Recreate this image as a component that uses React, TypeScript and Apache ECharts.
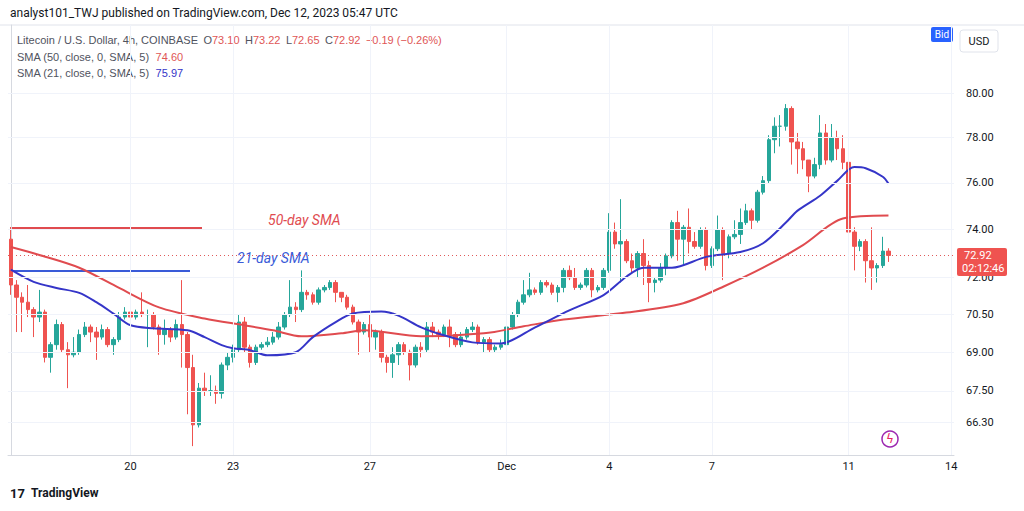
import { useRef, useEffect } from 'react'
import * as echarts from 'echarts';

// 4h candles, Nov 16 12:00 -> Dec 12 04:00  [open, close, low, high]
const candles: number[][] = [
  [73.6, 71.7, 71.3, 74.1], [71.7, 71.2, 69.8, 71.9], [71.2, 71.0, 69.8, 71.4], [71.0, 70.7, 70.4, 71.7],
  [70.7, 70.4, 69.6, 70.8], [70.4, 70.6, 70.2, 71.5], [70.6, 68.8, 68.6, 70.7], [68.8, 69.3, 68.2, 69.4],
  [69.3, 70.1, 69.1, 70.3], [70.1, 69.1, 69.0, 70.2], [69.1, 68.9, 67.6, 69.4], [68.9, 69.0, 68.8, 69.6],
  [69.0, 69.7, 68.9, 69.9], [69.7, 70.0, 69.6, 70.2], [70.0, 69.8, 69.4, 70.1], [69.8, 69.6, 68.7, 70.0],
  [69.6, 69.9, 69.5, 70.1], [69.9, 69.3, 69.2, 70.0], [69.3, 69.5, 68.9, 69.6], [69.5, 70.4, 69.4, 70.6],
  [70.4, 70.6, 70.3, 70.8], [70.6, 70.4, 70.0, 70.7], [70.4, 70.6, 70.3, 70.7], [70.6, 70.5, 70.4, 71.4],
  [70.5, 70.5, 69.2, 70.7], [70.5, 70.0, 69.9, 70.6], [70.0, 69.7, 68.9, 70.1], [69.7, 69.9, 69.3, 70.3],
  [69.9, 69.6, 69.4, 70.0], [69.6, 70.1, 69.5, 70.3], [70.1, 69.7, 68.4, 71.9], [69.7, 68.4, 66.6, 69.8],
  [68.4, 66.2, 65.4, 68.9], [66.2, 67.6, 66.1, 67.8], [67.6, 67.5, 67.3, 68.2], [67.5, 67.5, 67.3, 68.1],
  [67.5, 67.4, 67.0, 67.7], [67.4, 68.5, 67.2, 68.6], [68.5, 68.8, 68.3, 69.0], [68.8, 69.1, 68.6, 69.3],
  [69.1, 70.2, 69.0, 70.5], [70.2, 69.2, 69.0, 70.4], [69.2, 68.6, 68.4, 69.3], [68.6, 69.2, 68.5, 69.3],
  [69.2, 69.3, 69.1, 69.4], [69.3, 69.4, 69.2, 69.6], [69.4, 69.6, 69.3, 69.8], [69.6, 70.0, 69.5, 70.2],
  [70.0, 70.5, 69.9, 70.6], [70.5, 70.8, 70.4, 71.9], [70.8, 70.7, 70.2, 71.0], [70.7, 71.4, 70.6, 72.3],
  [71.4, 71.3, 71.1, 71.5], [71.3, 71.0, 70.9, 71.4], [71.0, 71.5, 70.9, 71.6], [71.5, 71.6, 71.4, 71.7],
  [71.6, 71.8, 71.5, 71.9], [71.8, 71.4, 71.0, 71.9], [71.4, 71.2, 71.0, 71.4], [71.2, 70.8, 70.7, 71.3],
  [70.8, 70.2, 70.1, 70.9], [70.2, 69.8, 68.9, 70.3], [69.8, 70.1, 69.7, 70.2], [70.1, 69.6, 69.0, 70.5],
  [69.6, 69.8, 69.1, 69.9], [69.8, 68.8, 68.6, 69.9], [68.8, 68.6, 68.2, 68.9], [68.6, 68.9, 68.0, 69.2],
  [68.9, 69.3, 68.5, 69.4], [69.3, 69.0, 68.9, 69.4], [69.0, 68.5, 67.9, 69.1], [68.5, 69.2, 68.4, 69.3],
  [69.2, 69.1, 68.8, 69.4], [69.1, 70.0, 69.0, 70.2], [70.0, 69.8, 69.6, 70.2], [69.8, 69.7, 69.5, 69.9],
  [69.7, 70.0, 69.6, 70.1], [70.0, 69.7, 69.2, 70.3], [69.7, 69.3, 69.2, 69.8], [69.3, 69.6, 69.2, 69.8],
  [69.6, 69.9, 69.5, 70.0], [69.9, 70.0, 69.8, 70.2], [70.0, 69.4, 69.3, 70.1], [69.4, 69.5, 69.0, 69.6],
  [69.5, 69.1, 69.0, 69.6], [69.1, 69.2, 69.0, 69.3], [69.2, 69.3, 69.1, 69.5], [69.3, 70.0, 69.0, 70.1],
  [70.0, 70.5, 69.9, 70.6], [70.5, 71.0, 70.4, 71.1], [71.0, 71.3, 70.9, 71.9], [71.3, 71.5, 71.2, 72.2],
  [71.5, 71.4, 71.3, 71.6], [71.4, 71.8, 71.3, 71.9], [71.8, 71.7, 71.6, 71.9], [71.7, 71.4, 71.3, 71.8],
  [71.4, 71.6, 71.0, 71.7], [71.6, 72.3, 71.4, 72.4], [72.3, 72.0, 71.9, 72.5], [72.0, 71.6, 71.5, 72.4],
  [71.6, 71.7, 71.5, 71.8], [71.7, 72.3, 71.6, 72.4], [72.3, 71.5, 71.2, 72.4], [71.5, 71.6, 71.4, 71.7],
  [71.6, 72.3, 71.5, 72.4], [72.3, 73.9, 72.2, 74.7], [73.9, 73.4, 73.2, 74.3], [73.4, 73.5, 71.8, 75.3],
  [73.5, 72.7, 72.6, 73.6], [72.7, 72.4, 72.2, 73.0], [72.4, 73.0, 72.0, 73.1], [73.0, 72.5, 71.7, 73.6],
  [72.5, 71.8, 71.0, 72.7], [71.8, 71.9, 71.4, 72.0], [71.9, 72.4, 71.8, 72.6], [72.4, 72.9, 72.1, 73.0],
  [72.9, 74.3, 72.8, 74.4], [74.3, 73.6, 72.7, 74.8], [73.6, 74.1, 72.5, 74.2], [74.1, 73.5, 73.0, 74.9],
  [73.5, 73.3, 73.2, 73.9], [73.3, 74.0, 73.2, 74.1], [74.0, 72.5, 72.3, 74.1], [72.5, 73.2, 72.4, 73.3],
  [73.2, 74.0, 73.1, 74.6], [74.0, 73.0, 71.9, 74.1], [73.0, 73.7, 72.8, 73.8], [73.7, 73.8, 73.6, 74.4],
  [73.8, 74.3, 73.4, 74.9], [74.3, 74.8, 74.2, 75.1], [74.8, 74.4, 74.0, 74.9], [74.4, 75.6, 74.3, 75.7],
  [75.6, 76.1, 75.5, 76.3], [76.1, 77.9, 76.0, 78.1], [77.9, 78.5, 77.3, 78.9], [78.5, 78.5, 77.6, 79.0],
  [78.5, 79.3, 78.3, 79.5], [79.3, 77.8, 76.8, 79.4], [77.8, 77.5, 76.4, 78.2], [77.5, 77.0, 76.6, 77.8],
  [77.0, 76.3, 75.6, 77.0], [76.3, 76.8, 76.2, 77.1], [76.8, 78.2, 76.6, 79.0], [78.2, 77.0, 76.8, 78.6],
  [77.0, 78.0, 76.9, 78.6], [78.0, 77.5, 77.0, 78.3], [77.5, 76.9, 76.6, 78.1], [76.9, 73.9, 70.6, 77.2],
  [73.9, 73.3, 72.3, 74.1], [73.3, 73.5, 73.1, 73.6], [73.5, 72.7, 71.8, 73.6], [72.7, 72.4, 71.5, 74.1],
  [72.4, 72.5, 71.8, 72.6], [72.5, 73.1, 72.4, 73.7], [73.10, 72.92, 72.65, 73.22],
];

// moving averages: [candle index, value]
const sma50: number[][] = [
  [0, 73.27], [5, 72.94], [12, 72.41], [19, 71.58], [26, 70.79], [34, 70.34], [41, 70.07], [46, 69.87],
  [51, 69.63], [58, 69.75], [62, 69.87], [72, 69.63], [83, 69.75], [90, 70.03], [97, 70.3], [108, 70.58],
  [118, 70.96], [125, 71.63], [132, 72.41], [139, 73.35], [146, 74.47], [154, 74.6],
];
const sma21: number[][] = [
  [0, 72.33], [4, 71.83], [8, 71.58], [12, 71.38], [15, 71.0], [18, 70.54], [21, 70.07], [25, 69.95],
  [31, 69.87], [34, 69.6], [37, 69.28], [39, 69.16], [42, 69.08], [45, 68.88], [50, 69.0], [53, 69.6],
  [57, 70.2], [60, 70.54], [65, 70.62], [68, 70.46], [72, 69.99], [76, 69.67], [81, 69.39], [86, 69.35],
  [92, 69.99], [98, 70.67], [104, 71.29], [108, 72.04], [111, 72.41], [116, 72.41], [122, 72.86],
  [128, 73.06], [132, 73.43], [136, 74.3], [138, 74.8], [142, 75.45], [145, 76.09], [148, 76.69],
  [150, 76.64], [153, 76.27], [154, 75.97],
];

const categoryCount = 166;
const dateIdx = [21, 39, 63, 87, 105, 123, 147, 165];
const dateText = ['20', '23', '27', 'Dec', '4', '7', '11', '14'];
const priceTicks = [66.3, 67.5, 69, 70.5, 72, 74, 76, 78, 80];
const lastPrice = 72.92;

const GRID = '#f0f3fa';
const UP = '#26a69a';
const DOWN = '#ef5350';

export default function App() {
  const cDom = useRef<HTMLDivElement>(null)

  useEffect(() => {
    if (!cDom.current) return;
    const chart = echarts.init(cDom.current, null, { renderer: 'svg' });
    const cats = Array.from({ length: categoryCount }, (_, i) => String(i));
    const font = 'Roboto, "Noto Sans", sans-serif';
    chart.setOption({
      animation: false,
      backgroundColor: '#fff',
      textStyle: { fontFamily: font },
      grid: { left: 8, width: 946, top: 25, height: 430 },
      xAxis: [
        {
          type: 'category', data: cats, boundaryGap: true,
          axisLine: { show: true, lineStyle: { color: '#d6d9e0' } },
          axisTick: { show: false },
          splitLine: { show: false },
          axisLabel: {
            interval: 0, color: '#131722', fontSize: 11, margin: 6,
            formatter: (_v: string, i: number) => {
              const k = dateIdx.indexOf(i);
              return k >= 0 ? dateText[k] : '';
            },
          },
        },
        { type: 'value', min: -0.5, max: categoryCount - 0.5, show: false },
      ],
      yAxis: {
        type: 'log', logBase: 10, min: 65.07, max: 83.17, position: 'right',
        axisLine: { show: true, lineStyle: { color: '#d6d9e0' } },
        axisTick: { show: false },
        splitLine: { show: false },
        axisLabel: {
          customValues: priceTicks, color: '#131722', fontSize: 11, margin: 12,
          formatter: (v: number) => v.toFixed(2),
        },
      },
      series: [
        {
          type: 'candlestick', data: candles, barWidth: 4,
          itemStyle: { color: UP, color0: DOWN, borderColor: UP, borderColor0: DOWN },
          markLine: {
            silent: true, symbol: 'none', label: { show: false },
            data: [
              ...priceTicks.map(v => ({ yAxis: v, lineStyle: { color: GRID, type: 'solid', width: 1 } })),
              { yAxis: lastPrice, lineStyle: { color: '#e05a5a', type: [1, 3], width: 1 } },
            ],
          },
        },
        {
          type: 'line', xAxisIndex: 1, data: sma50, smooth: 0.3, symbol: 'none',
          lineStyle: { color: '#e04b4f', width: 2 }, z: 3,
          markLine: {
            silent: true, symbol: 'none', label: { show: false },
            lineStyle: { color: GRID, type: 'solid', width: 1 },
            data: dateIdx.map(i => ({ xAxis: i })),
          },
        },
        {
          type: 'line', xAxisIndex: 1, data: sma21, smooth: 0.3, symbol: 'none',
          lineStyle: { color: '#3535c8', width: 2 }, z: 3,
        },
      ],
      graphic: [
        { type: 'text', left: 10, top: 7, style: { text: 'analyst101_TWJ published on TradingView.com, Dec 12, 2023 05:47 UTC', fill: '#131722', fontSize: 12, fontFamily: font } },
        { type: 'line', shape: { x1: 0, y1: 25, x2: 1024, y2: 25 }, style: { stroke: '#e0e3eb', lineWidth: 1 } },
        {
          type: 'text', left: 17, top: 34,
          style: {
            text: '{g|Litecoin / U.S. Dollar, 4h, COINBASE}  {g|O}{r|73.10}  {g|H}{r|73.22}  {g|L}{r|72.65}  {g|C}{r|72.92}  {r|−0.19 (−0.26%)}',
            fontFamily: font, fontSize: 11,
            rich: { g: { fill: '#50535e', fontSize: 11 }, r: { fill: '#e05656', fontSize: 11 } },
          },
        },
        {
          type: 'text', left: 17, top: 51,
          style: { text: '{g|SMA (50, close, 0, SMA, 5)}  {r|74.60}', fontFamily: font, rich: { g: { fill: '#50535e', fontSize: 11 }, r: { fill: '#e05656', fontSize: 11 } } },
        },
        {
          type: 'text', left: 17, top: 67,
          style: { text: '{g|SMA (21, close, 0, SMA, 5)}  {b|75.97}', fontFamily: font, rich: { g: { fill: '#50535e', fontSize: 11 }, b: { fill: '#3535c8', fontSize: 11 } } },
        },
        // annotations drawn by the author
        { type: 'line', shape: { x1: 10, y1: 228, x2: 202, y2: 228 }, style: { stroke: '#e04b4f', lineWidth: 2 } },
        { type: 'line', shape: { x1: 10, y1: 271, x2: 190, y2: 271 }, style: { stroke: '#3a5bd8', lineWidth: 2 } },
        { type: 'text', left: 268, top: 213, style: { text: '50-day SMA', fill: '#e04b4f', fontSize: 14, fontStyle: 'italic', fontFamily: font } },
        { type: 'text', left: 237, top: 251, style: { text: '21-day SMA', fill: '#3a5bd8', fontSize: 14, fontStyle: 'italic', fontFamily: font } },
        // price scale widgets
        { type: 'rect', shape: { x: 931, y: 27, width: 22, height: 15, r: 2 }, style: { fill: '#2962ff' } },
        { type: 'text', x: 942, y: 34.5, style: { text: 'Bid', fill: '#fff', fontSize: 10, align: 'center', verticalAlign: 'middle', fontFamily: font } },
        { type: 'rect', shape: { x: 960, y: 30, width: 38, height: 22, r: 3 }, style: { fill: '#fff', stroke: '#e0e3eb' } },
        { type: 'text', x: 979, y: 41, style: { text: 'USD', fill: '#131722', fontSize: 11, align: 'center', verticalAlign: 'middle', fontFamily: font } },
        { type: 'rect', z: 10, shape: { x: 957, y: 248, width: 50, height: 28, r: 2 }, style: { fill: '#ef5350' } },
        { type: 'text', z: 11, x: 964, y: 255, style: { text: '72.92', fill: '#fff', fontSize: 11, verticalAlign: 'middle', fontFamily: font } },
        { type: 'text', z: 11, x: 962, y: 268, style: { text: '02:12:46', fill: '#fff', fontSize: 11, verticalAlign: 'middle', fontFamily: font } },
        { type: 'circle', shape: { cx: 890, cy: 439, r: 8 }, style: { fill: '#fff', stroke: '#9c27b0', lineWidth: 1.5 } },
        { type: 'text', x: 890, y: 439, style: { text: 'ϟ', fill: '#e91e63', fontSize: 12, align: 'center', verticalAlign: 'middle', fontFamily: 'DejaVu Sans' } },
        // footer logo
        { type: 'text', left: 10, top: 487, style: { text: '17', fill: '#131722', fontSize: 13, fontWeight: 'bold', fontFamily: font } },
        { type: 'text', left: 31, top: 487, style: { text: 'TradingView', fill: '#131722', fontSize: 12, fontWeight: 'bold', fontFamily: font } },
      ],
    });
    return () => chart.dispose();
  }, []);

  return <div ref={cDom} style={{ position: 'absolute', left: 0, top: 0, width: 1024, height: 511, background: '#fff' }}></div>
}
